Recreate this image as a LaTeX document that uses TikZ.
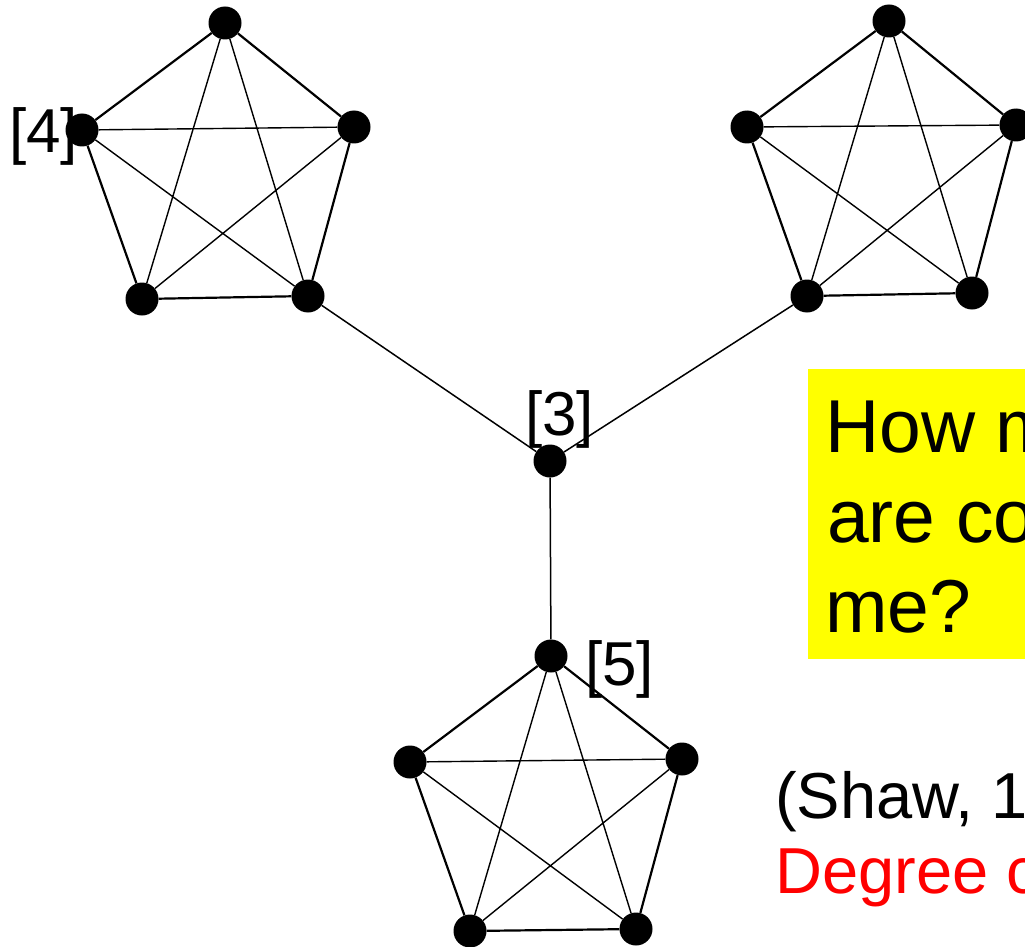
\documentclass[tikz,border=0pt]{standalone}
\usepackage{fontspec}
\setmainfont{Liberation Sans}
\definecolor{boxyellow}{RGB}{255,255,0}
\definecolor{txtred}{RGB}{255,0,0}
\begin{document}
\begin{tikzpicture}[x=1pt,y=-1pt,
  dot/.style={circle,fill=black,inner sep=0pt,minimum size=33pt},
  outer/.style={line width=2.2pt},
  chord/.style={line width=1.4pt},
  link/.style={line width=1.5pt},
  lbl/.style={anchor=base west,inner sep=0pt,font=\fontsize{62}{62}\selectfont},
  big/.style={anchor=base west,inner sep=0pt,font=\fontsize{75}{90}\selectfont},
  mid/.style={anchor=base west,inner sep=0pt,font=\fontsize{65}{75}\selectfont}]
\useasboundingbox (0,0) rectangle (1025,947);
\begin{scope}
\clip (0,0) rectangle (1025,947);
% question box
\fill[boxyellow] (808,369) rectangle (1040,659);
\node[big] (q1) at (825,452) {How many};
\node[big] (q2) at (827,542) {are connected};
\node[big] (q3) at (825,632) {me?};
\node[mid] (s1) at (775,818) {(Shaw, 1954)};
\node[mid,text=txtred] (s2) at (775,893) {Degree centrality};
% labels
\node[lbl] (l4) at (9,153) {[4]};
\node[lbl] (l3) at (525,435) {[3]};
\node[lbl] (l5) at (585,685) {[5]};
% dots
\foreach \p/\xa/\ya/\xb/\yb/\xc/\yc/\xd/\yd/\xe/\ye in {
  A/225/23/82/130/354/127/142/299/308/296,
  B/889/21/747/127/1016/125/807/296/972/293,
  C/551/656/410/762/682/759/470/931/636/929}{
  \node[dot] (\p t) at (\xa,\ya) {};
  \node[dot] (\p l) at (\xb,\yb) {};
  \node[dot] (\p r) at (\xc,\yc) {};
  \node[dot] (\p bl) at (\xd,\yd) {};
  \node[dot] (\p br) at (\xe,\ye) {};
  \draw[outer] (\p t) -- (\p l) -- (\p bl) -- (\p br) -- (\p r) -- (\p t);
  \draw[chord] (\p t) -- (\p bl) (\p t) -- (\p br) (\p l) -- (\p r)
               (\p l) -- (\p br) (\p r) -- (\p bl);
}
\node[dot] (X) at (550,461) {};
\draw[link] (Abr) -- (X);
\draw[link] (Bbl) -- (X);
\draw[link] (X) -- (Ct);
\end{scope}
\end{tikzpicture}
\end{document}
